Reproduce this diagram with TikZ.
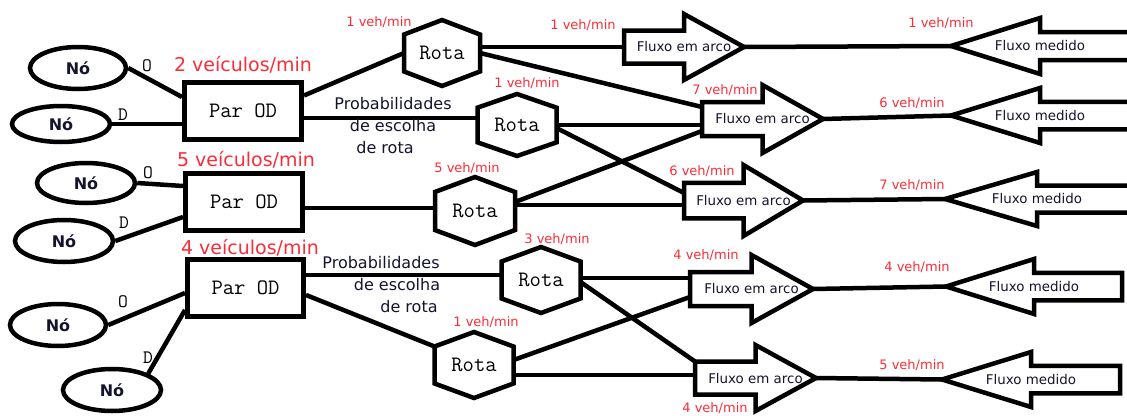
\documentclass[tikz,border=0pt]{standalone}
\usepackage{fontspec}
\setmainfont{DejaVu Sans}
\newfontfamily\monof{Latin Modern Mono}
\usetikzlibrary{shapes.geometric,calc}
\definecolor{redlab}{RGB}{250,45,55}
\definecolor{ink}{RGB}{20,20,45}
\newcommand\mkHex[1]{\draw[shp] (#1.north) -- ($(#1.north east)!0.22!(#1.south east)$) -- ($(#1.north east)!0.78!(#1.south east)$) -- (#1.south) -- ($(#1.north west)!0.78!(#1.south west)$) -- ($(#1.north west)!0.22!(#1.south west)$) -- cycle;}
\newcommand\mkArc[1]{\draw[shp] ($(#1.north west)!0.25!(#1.south west)$) -- ($(#1.north)!0.25!(#1.south)$) -- (#1.north) -- (#1.east) -- (#1.south) -- ($(#1.north)!0.75!(#1.south)$) -- ($(#1.north west)!0.75!(#1.south west)$) -- cycle;}
\newcommand\mkMedOpen[1]{\draw[shp] ($(#1.north east)!0.25!(#1.south east)$) -- ($(#1.north)!0.25!(#1.south)$) -- (#1.north) -- (#1.west) -- (#1.south) -- ($(#1.north)!0.75!(#1.south)$) -- ($(#1.north east)!0.75!(#1.south east)$);}
\newcommand\mkMed[1]{\draw[shp] ($(#1.north east)!0.25!(#1.south east)$) -- ($(#1.north)!0.25!(#1.south)$) -- (#1.north) -- (#1.west) -- (#1.south) -- ($(#1.north)!0.75!(#1.south)$) -- ($(#1.north east)!0.75!(#1.south east)$) -- cycle;}
\begin{document}
\begin{tikzpicture}[x=1pt,y=-1pt,
  shp/.style={line width=4.5pt, draw=black},
  conn/.style={line width=4.5pt},
  nodo/.style={ellipse, draw, line width=4.5pt, inner sep=0pt, font=\fontsize{16}{18}\selectfont\bfseries, text=ink},
  parod/.style={rectangle, draw, line width=5pt, inner sep=0pt, minimum width=117pt, minimum height=57pt, font=\fontsize{22}{24}\selectfont\monof},
  rota/.style={rectangle, inner sep=0pt, outer sep=0pt, minimum width=79pt, minimum height=66pt, font=\fontsize{22}{24}\selectfont\monof},
  arco/.style={rectangle, inner sep=0pt, outer sep=0pt, font=\fontsize{13.4}{15}\selectfont, text=ink},
  medido/.style={arco},
  odlab/.style={inner sep=0pt, font=\fontsize{19}{20}\selectfont\monof},
  rate/.style={inner sep=0pt, text=redlab, font=\fontsize{13}{15}\selectfont},
  bigrate/.style={inner sep=0pt, text=redlab, font=\fontsize{19}{21}\selectfont},
  prob/.style={inner sep=0pt, align=center, text=ink, font=\fontsize{16}{22}\selectfont},
]
\useasboundingbox (0,0) rectangle (1127,415);

% origin / destination nodes
\node[nodo, minimum width=96pt, minimum height=42pt] (N1) at (78,68) {Nó};
\node[nodo, minimum width=98pt, minimum height=36pt] (N2) at (61,124) {Nó};
\node[nodo, minimum width=98pt, minimum height=40pt] (N3) at (86,183) {Nó};
\node[nodo, minimum width=98pt, minimum height=42pt] (N4) at (64,241) {Nó};
\node[nodo, minimum width=96pt, minimum height=42pt] (N5) at (58,325) {Nó};
\node[nodo, minimum width=98pt, minimum height=42pt] (N6) at (112,390) {Nó};

% OD pairs
\node[parod] (B1) at (243,110.5) {Par OD};
\node[parod] (B2) at (244,202) {Par OD};
\node[parod, minimum width=116pt] (B3) at (245.5,288) {Par OD};

% routes
\node[rota, minimum width=76pt] (R1) at (442,53) {Rota};
\node[rota, minimum height=62pt] (R2) at (517,125) {Rota};
\node[rota, minimum width=80pt, minimum height=68pt] (R3) at (475,211) {Rota};
\node[rota] (R4) at (541,280) {Rota};
\node[rota] (R5) at (474,365) {Rota};
\mkHex{R1}\mkHex{R2}\mkHex{R3}\mkHex{R4}\mkHex{R5}

% link flows
\node[arco, minimum width=120pt, minimum height=66pt] (A1) at (684,47) {Fluxo em arco};
\node[arco, minimum width=121pt, minimum height=68pt] (A2) at (762.5,119) {Fluxo em arco};
\node[arco, minimum width=119pt, minimum height=71pt] (A3) at (743.5,200.5) {Fluxo em arco};
\node[arco, minimum width=123pt, minimum height=68pt] (A4) at (751.5,289) {Fluxo em arco};
\node[arco, minimum width=121pt, minimum height=66pt] (A5) at (755.5,378) {Fluxo em arco};
\mkArc{A1}\mkArc{A2}\mkArc{A3}\mkArc{A4}\mkArc{A5}

% measured flows
\node[medido, minimum width=178pt, minimum height=56pt] (M1) at (1040,46) {Fluxo medido};
\node[medido, minimum width=178pt, minimum height=55pt] (M2) at (1040,115.5) {Fluxo medido};
\node[medido, minimum width=184pt, minimum height=54pt] (M3) at (1037,199) {Fluxo medido};
\node[medido, minimum width=176pt, minimum height=55pt] (M4) at (1034,286.5) {Fluxo medido};
\node[medido, minimum width=178pt, minimum height=55pt] (M5) at (1031,379.5) {Fluxo medido};
\mkMedOpen{M1}\mkMedOpen{M2}\mkMedOpen{M3}\mkMed{M4}\mkMed{M5}

% node -> OD pair
\draw[conn] (N1.east) -- ([yshift=13.5pt]B1.west);
\draw[conn] (N2.east) -- ([yshift=-13.5pt]B1.west);
\draw[conn] (N3.east) -- ([yshift=16pt]B2.west);
\draw[conn] (N4.east) -- ([yshift=-15pt]B2.west);
\draw[conn] (N5.east) -- ([yshift=-5pt]B3.west);
\draw[conn] (N6.north east) -- ([yshift=-22pt]B3.west);
\node[odlab] (o1) at (147,66) {O};
\node[odlab] (d1) at (123,115) {D};
\node[odlab] (o2) at (148,173) {O};
\node[odlab] (d2) at (124,223) {D};
\node[odlab] (o3) at (123,302) {O};
\node[odlab] (d3) at (148,358) {D};

% OD pair -> route
\draw[conn] ([yshift=15pt]B1.east) -- (R1.west);
\draw[conn] ([yshift=-7.5pt]B1.east) -- ([yshift=7pt]R2.west);
\draw[conn] ([yshift=-6pt]B2.east) -- ([yshift=3pt]R3.west);
\draw[conn] ([yshift=13pt]B3.east) -- ([yshift=5pt]R4.west);
\draw[conn] ([yshift=-7pt]B3.east) -- ($(R5.north west)!0.22!(R5.south west)$);

% route -> link flow
\draw[conn] ([yshift=6pt]R1.east) -- (A1.west);
\draw[conn] (R1.east) -- ([yshift=12pt]A2.west);
\draw[conn] (R2.east) -- ([yshift=-6pt]A2.west);
\draw[conn] ([yshift=-3pt]R2.east) -- ([yshift=7.5pt]A3.west);
\draw[conn] ([yshift=9pt]R3.east) -- ([yshift=-12pt]A2.west);
\draw[conn] ([yshift=6pt]R3.east) -- ([yshift=-4.5pt]A3.west);
\draw[conn] ([yshift=2pt]R4.east) -- ([yshift=11pt]A4.west);
\draw[conn] ([yshift=-2pt]R4.east) -- ($(A5.north west)!0.25!(A5.south west)$);
\draw[conn] ([yshift=5pt]R5.east) -- ([yshift=-8pt]A4.west);
\draw[conn] ([yshift=-10pt]R5.east) -- ([yshift=3pt]A5.west);

% link flow -> measured flow
\draw[conn] (A1.east) -- (M1.west);
\draw[conn] (A2.east) -- (M2.west);
\draw[conn] (A3.east) -- (M3.west);
\draw[conn] (A4.east) -- (M4.west);
\draw[conn] (A5.east) -- (M5.west);

% labels
\node[prob] (P1) at (393,126) {Probabilidades\\de escolha\\de rota\hspace*{16pt}};
\node[prob] (P2) at (381,285) {Probabilidades\\\hspace*{32pt}de escolha\\\hspace*{56pt}de rota};

\node[bigrate] (v1) at (243,65) {2 veículos/min};
\node[bigrate] (v2) at (246,160) {5 veículos/min};
\node[bigrate] (v3) at (250,248) {4 veículos/min};

\node[rate] (r1) at (379,22) {1 veh/min};
\node[rate] (r2) at (527,83) {1 veh/min};
\node[rate] (r3) at (467,168) {5 veh/min};
\node[rate] (r4) at (557,239) {3 veh/min};
\node[rate] (r5) at (486,322) {1 veh/min};
\node[rate] (a1) at (583,25) {1 veh/min};
\node[rate] (a2) at (725,90) {7 veh/min};
\node[rate] (a3) at (702,171) {6 veh/min};
\node[rate] (a4) at (706,255) {4 veh/min};
\node[rate] (a5) at (715,408) {4 veh/min};
\node[rate] (m1) at (941,23) {1 veh/min};
\node[rate] (m2) at (912,103) {6 veh/min};
\node[rate] (m3) at (912,185) {7 veh/min};
\node[rate] (m4) at (917,267) {4 veh/min};
\node[rate] (m5) at (912,365) {5 veh/min};
\end{tikzpicture}
\end{document}
